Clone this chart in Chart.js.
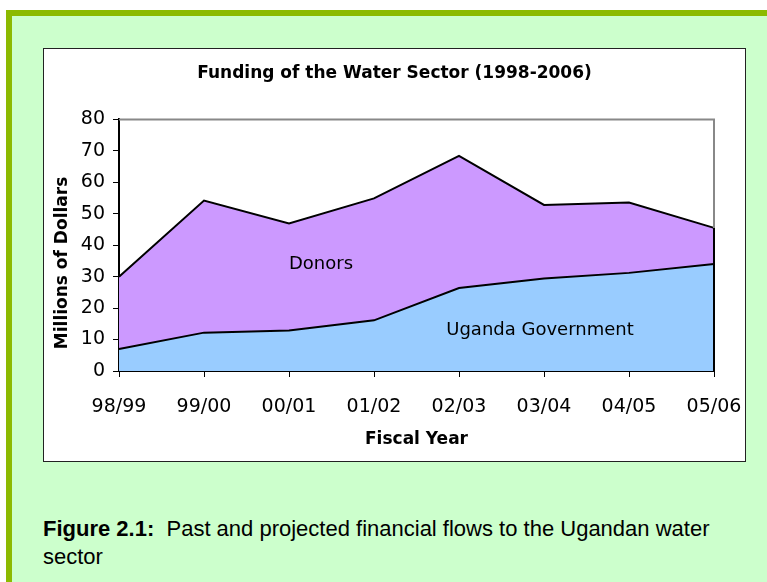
<!DOCTYPE html>
<html>
<head>
<meta charset="utf-8">
<script src="https://cdn.jsdelivr.net/npm/chart.js@4"></script>
<style>
  html, body { margin: 0; padding: 0; background: #fff; }
  body { width: 767px; height: 582px; position: relative; overflow: hidden; }
  .panel {
    position: absolute; left: 6px; top: 10px; width: 761px; height: 572px;
    box-sizing: border-box; background: #ccffcc;
    border-left: 6px solid #8cba00; border-top: 6px solid #8cba00;
  }
  .chartbox {
    position: absolute; left: 43px; top: 48px; width: 703px; height: 414px;
    box-sizing: border-box; border: 1px solid #222; background: #fff;
  }
  .caption {
    position: absolute; left: 43px; top: 515px; width: 700px;
    font-family: "Liberation Sans Narrow", "Arial Narrow", "Liberation Sans", sans-serif;
    font-size: 22px; line-height: 28px; color: #000;
  }
  .caption b { font-weight: bold; }
</style>
</head>
<body>
<div class="panel"></div>
<div class="chartbox"><canvas id="fundingChart" width="701" height="412"></canvas></div>
<div class="caption"><b>Figure 2.1:</b>&nbsp; Past and projected financial flows to the Ugandan water<br>sector</div>
<script>
// fiscal years and funding (millions of dollars)
const years = ['98/99', '99/00', '00/01', '01/02', '02/03', '03/04', '04/05', '05/06'];
const government = [7, 12.2, 12.9, 16.1, 26.4, 29.4, 31.2, 34];
const donors = [23, 42, 34, 38.8, 42, 23.4, 22.4, 11.5];
const yTicks = [0, 10, 20, 30, 40, 50, 60, 70, 80];

const chartFont = 'DejaVu Sans';

// frame + area labels like the Excel original
const extras = {
    id: 'extras',
    afterDatasetsDraw(chart) {
        const { ctx, chartArea: a, scales: { x, y } } = chart;
        ctx.save();
        ctx.strokeStyle = '#888';
        ctx.lineWidth = 2;
        ctx.beginPath();
        ctx.moveTo(a.left, a.top);
        ctx.lineTo(a.right, a.top);
        ctx.lineTo(a.right, a.bottom);
        ctx.stroke();

        const last = years.length - 1;
        const xr = x.getPixelForValue(last);
        ctx.strokeStyle = '#000';
        ctx.beginPath();
        ctx.moveTo(xr, y.getPixelForValue(0));
        ctx.lineTo(xr, y.getPixelForValue(government[last] + donors[last]));
        ctx.stroke();

        ctx.fillStyle = '#000';
        ctx.font = '18px ' + chartFont;
        ctx.textAlign = 'left';
        ctx.textBaseline = 'middle';
        ctx.fillText('Donors', x.getPixelForValue(2), y.getPixelForValue(34));
        ctx.fillText('Uganda Government', x.getPixelForValue(3.85), y.getPixelForValue(13));
        ctx.restore();
    }
};

const ctx = document.getElementById('fundingChart').getContext('2d');
new Chart(ctx, {
    type: 'line',
    data: {
        labels: years,
        datasets: [{
            label: 'Uganda Government',
            data: government,
            backgroundColor: '#99ccff',
            borderColor: '#000',
            borderWidth: 2,
            pointRadius: 0,
            fill: 'origin',
            tension: 0
        }, {
            label: 'Donors',
            data: donors,
            backgroundColor: '#cc99ff',
            borderColor: '#000',
            borderWidth: 2,
            pointRadius: 0,
            fill: '-1',
            tension: 0
        }]
    },
    options: {
        responsive: false,
        animation: false,
        layout: { padding: 0 },
        plugins: {
            legend: { display: false },
            tooltip: { enabled: false },
            title: {
                display: true,
                text: 'Funding of the Water Sector (1998-2006)',
                color: '#000',
                font: { family: chartFont, size: 17, weight: 'bold' },
                padding: { top: 14, bottom: 36 }
            }
        },
        scales: {
            x: {
                offset: false,
                grid: { drawOnChartArea: false, drawTicks: true, tickLength: 6, color: '#000' },
                border: { color: '#000', width: 2 },
                ticks: { color: '#000', padding: 19, maxRotation: 0, font: { family: chartFont, size: 19 } },
                title: {
                    display: true,
                    text: 'Fiscal Year',
                    color: '#000',
                    font: { family: chartFont, size: 17, weight: 'bold' },
                    padding: { top: 0, bottom: 11 }
                },
                afterFit(scale) {
                    scale.height = 90;
                    scale.paddingLeft = 0;
                    scale.paddingRight = 31;
                }
            },
            y: {
                stacked: true,
                min: 0,
                max: 80,
                afterBuildTicks(scale) { scale.ticks = yTicks.map(v => ({ value: v })); },
                grid: { drawOnChartArea: false, drawTicks: true, tickLength: 6, color: '#000' },
                border: { color: '#000', width: 2 },
                ticks: { color: '#000', padding: 8, font: { family: chartFont, size: 19 } },
                title: {
                    display: true,
                    text: 'Millions of Dollars      ',
                    color: '#000',
                    font: { family: chartFont, size: 17, weight: 'bold' },
                    padding: { top: 8, bottom: 0 }
                },
                afterFit(scale) { scale.width = 75; }
            }
        }
    },
    plugins: [extras]
});
</script>
</body>
</html>
